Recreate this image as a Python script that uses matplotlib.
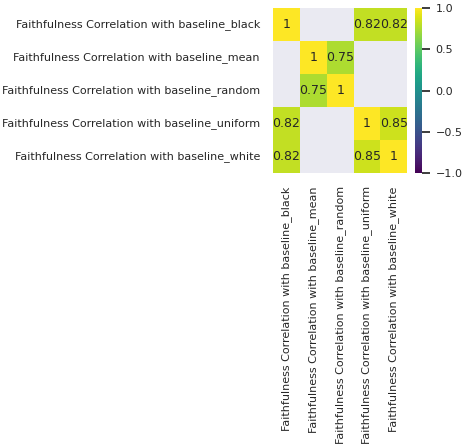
import numpy as np
import pandas as pd
import seaborn as sns
from matplotlib import pyplot as plt

sns.set_theme()

names = ["Faithfulness Correlation with baseline_black",
         "Faithfulness Correlation with baseline_mean",
         "Faithfulness Correlation with baseline_random",
         "Faithfulness Correlation with baseline_uniform",
         "Faithfulness Correlation with baseline_white"]
nan = np.nan
row_black = [1, nan, nan, 0.82, 0.82]
row_mean = [nan, 1, 0.75, nan, nan]
row_random = [nan, 0.75, 1, nan, nan]
row_uniform = [0.82, nan, nan, 1, 0.85]
row_white = [0.82, nan, nan, 0.85, 1]

corr = pd.DataFrame([row_black, row_mean, row_random, row_uniform, row_white],
                    index=names, columns=names)

fig = plt.figure(figsize=(4.66, 4.46), dpi=100)
ax = fig.add_axes([0.586, 0.612, 0.288, 0.370])
cax = fig.add_axes([0.891, 0.612, 0.015, 0.370])
sns.heatmap(corr, annot=True, annot_kws={"size": 9}, cmap="viridis",
            vmin=-1, vmax=1, ax=ax, cbar_ax=cax)
ax.grid(False)
ax.tick_params(labelsize=8)
cax.tick_params(labelsize=8)
fig.savefig("out.png", dpi=100)
